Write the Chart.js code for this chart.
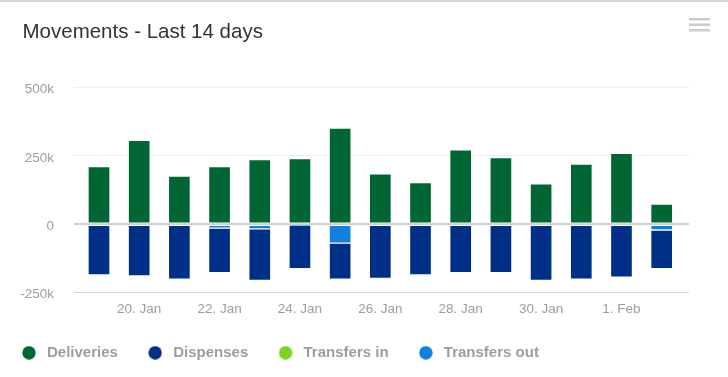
<!DOCTYPE html>
<html><head><meta charset="utf-8">
<script src="https://cdn.jsdelivr.net/npm/chart.js@4/dist/chart.umd.min.js"></script>
<style>html,body{margin:0;padding:0;background:#fff;overflow:hidden}#wrap{position:relative;width:728px;height:377px}</style>
</head><body><div id="wrap"><canvas id="c"></canvas></div>
<script>
const categories = ['19. Jan','20. Jan','21. Jan','22. Jan','23. Jan','24. Jan','25. Jan','26. Jan','27. Jan','28. Jan','29. Jan','30. Jan','31. Jan','1. Feb','2. Feb'];
const deliveries   = [211000, 307000, 176000, 211000, 236000, 240000, 351000, 184000, 152000, 272000, 244000, 148000, 220000, 259000, 74000];
const dispenses    = [-185000, -189000, -201000, -163000, -188000, -159000, -132000, -198000, -185000, -177000, -177000, -205000, -201000, -193000, -141000];
const transfersIn  = [0, 0, 0, 0, 0, 0, 0, 0, 0, 0, 0, 0, 0, 0, 0];
const transfersOut = [0, 0, 0, -14000, -17000, -3000, -69000, 0, 0, 0, 0, 0, 0, 0, -21000];
const xTickLabels = ['20. Jan','22. Jan','24. Jan','26. Jan','28. Jan','30. Jan','1. Feb'];
const yTickValues = [-250000, 0, 250000, 500000];
const yTickLabels = ['-250k', '0', '250k', '500k'];
const seriesNames = ['Deliveries', 'Dispenses', 'Transfers in', 'Transfers out'];
const seriesColors = ['#006633', '#002f87', '#7ed321', '#137fde'];

Chart.defaults.font.family = "'Liberation Sans', Arial, Helvetica, sans-serif";

function dot(color) {
  const c = document.createElement('canvas');
  c.width = 14; c.height = 14;
  const g = c.getContext('2d');
  g.fillStyle = color; g.beginPath(); g.arc(7, 7, 6.7, 0, Math.PI * 2); g.fill();
  return c;
}
const dots = seriesColors.map(dot);
const toXY = arr => arr.map((v, i) => ({x: i, y: v}));
const seriesData = [deliveries, dispenses, transfersIn, transfersOut];
const stackOrder = [0, 2, 3, 1];

const datasets = seriesNames.map((name, k) => ({
  label: name,
  data: toXY(seriesData[k]),
  backgroundColor: seriesColors[k],
  borderColor: 'rgba(255,255,255,0.65)',
  borderWidth: 1,
  borderSkipped: false,
  barThickness: 22,
  order: stackOrder[k]
}));

const fixPlugin = {
  id: 'fixPlugin',
  beforeDraw(chart) {
    if (chart.titleBlock) chart.titleBlock.left = 22.5;
    if (chart.legend) chart.legend.left = -8.3;
  },
  afterDraw(chart) {
    const ctx = chart.ctx;
    ctx.save();
    ctx.fillStyle = '#d8d8d8';
    ctx.fillRect(0, 0, 728, 2);
    ctx.fillStyle = '#cccccc';
    [18, 23.5, 29].forEach(y => ctx.fillRect(689, y, 21, 2.5));
    ctx.restore();
  }
};

new Chart(document.getElementById('c'), {
  type: 'bar',
  data: { datasets },
  plugins: [fixPlugin],
  options: {
    responsive: true,
    maintainAspectRatio: false,
    animation: false,
    layout: { padding: { left: 0, right: 39, top: 0, bottom: 6.7 } },
    plugins: {
      tooltip: { enabled: false },
      title: {
        display: true,
        text: 'Movements - Last 14 days',
        align: 'start',
        color: '#333333',
        font: { size: 20.5, weight: 'normal' },
        padding: { top: 20.1, bottom: 42.7 }
      },
      legend: {
        position: 'bottom',
        align: 'start',
        labels: {
          usePointStyle: true,
          pointStyleWidth: 21,
          boxHeight: 15,
          padding: 26.8,
          color: '#9d9d9d',
          font: { size: 15, weight: 'bold' },
          sort: (a, b) => a.datasetIndex - b.datasetIndex,
          generateLabels(chart) {
            const items = Chart.defaults.plugins.legend.labels.generateLabels(chart);
            items.forEach(it => { it.pointStyle = dots[it.datasetIndex]; it.lineWidth = 0; });
            return items;
          }
        }
      }
    },
    scales: {
      x: {
        type: 'linear',
        stacked: true,
        offset: false,
        min: -0.622,
        max: 14.68,
        grid: { display: false, drawTicks: false, offset: false },
        border: { display: false },
        afterBuildTicks(scale) {
          scale.ticks = xTickLabels.map(l => ({ value: categories.indexOf(l) }));
        },
        afterFit(scale) { scale.height = 25.8; },
        ticks: {
          autoSkip: false,
          maxRotation: 0,
          padding: 8.5,
          color: '#9d9d9d',
          font: { size: 13.5 },
          callback: v => categories[v]
        }
      },
      y: {
        stacked: true,
        min: -250000,
        max: 500000,
        afterBuildTicks(scale) {
          scale.ticks = yTickValues.map(v => ({ value: v }));
        },
        afterFit(scale) { scale.width = 74; },
        grid: {
          drawTicks: false,
          color: c => (c.tick && c.tick.value === 0) ? '#cfcfd8' : ((c.tick && c.tick.value === -250000) ? '#d6d6d6' : '#eeeeee'),
          lineWidth: c => (c.tick && c.tick.value === 0) ? 2 : 1
        },
        border: { display: false },
        ticks: {
          padding: 20,
          labelOffset: 2,
          color: '#9d9d9d',
          font: { size: 13.5 },
          callback: v => yTickLabels[yTickValues.indexOf(v)]
        }
      }
    }
  }
});
</script>
</body></html>
